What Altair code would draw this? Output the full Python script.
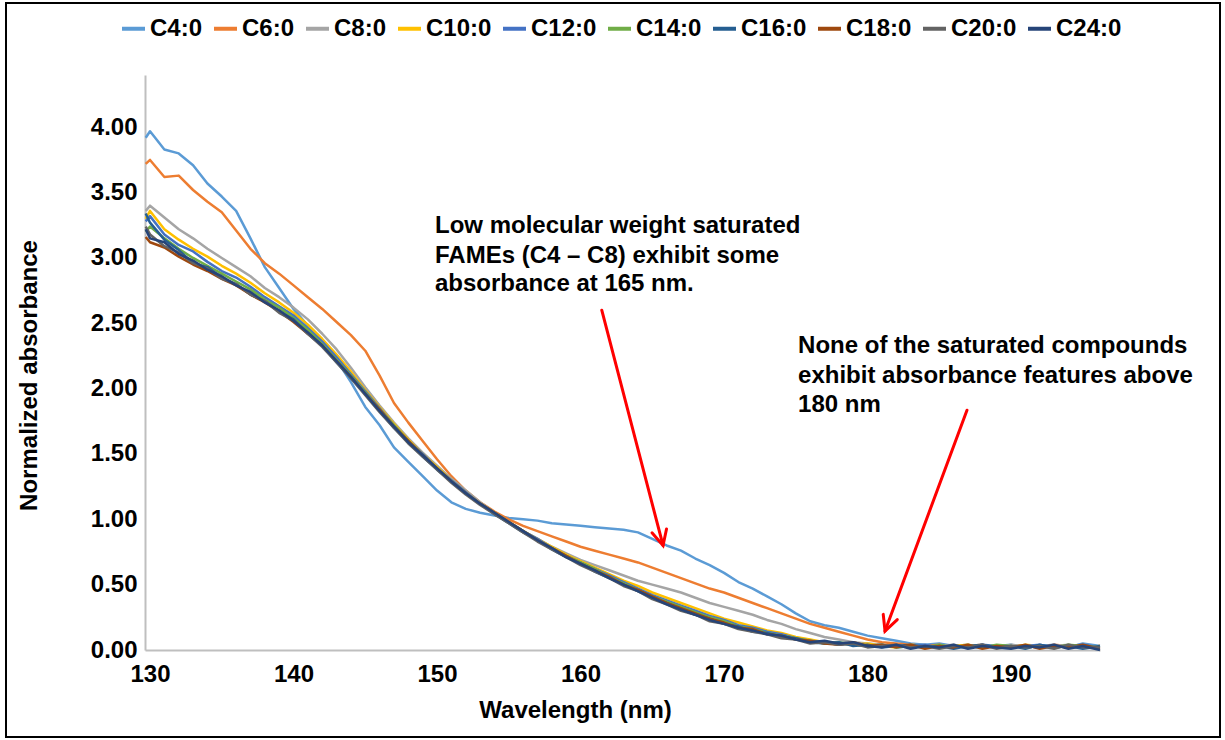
import altair as alt
import pandas as pd

# ---------------- data ----------------
wavelengths = [129.7, 130, 131, 132, 133, 134, 135, 136, 137, 138, 139,
               140, 141, 142, 143, 144, 145, 146, 147, 148, 149,
               150, 151, 152, 153, 154, 155, 156, 157, 158, 159,
               160, 161, 162, 163, 164, 165, 166, 167, 168, 169,
               170, 171, 172, 173, 174, 175, 176, 177, 178, 179,
               180, 181, 182, 183, 184, 185, 186, 187, 188, 189,
               190, 191, 192, 193, 194, 195, 196.2]

series_names = ["C4:0", "C6:0", "C8:0", "C10:0", "C12:0",
                "C14:0", "C16:0", "C18:0", "C20:0", "C24:0"]
series_colors = ["#5B9BD5", "#ED7D31", "#A5A5A5", "#FFC000", "#4472C4",
                 "#70AD47", "#255E91", "#9E480E", "#636363", "#264478"]

c4 = [3.92, 3.97, 3.83, 3.80, 3.71, 3.57, 3.47, 3.36, 3.15, 2.93, 2.77,
      2.61, 2.48, 2.37, 2.22, 2.05, 1.86, 1.72, 1.55, 1.44, 1.33,
      1.22, 1.13, 1.08, 1.05, 1.03, 1.01, 1.00, 0.99, 0.97, 0.96,
      0.95, 0.94, 0.93, 0.92, 0.90, 0.85, 0.80, 0.76, 0.70, 0.65,
      0.59, 0.52, 0.47, 0.41, 0.35, 0.28, 0.22, 0.19, 0.17, 0.14,
      0.11, 0.09, 0.07, 0.05, 0.04, 0.05, 0.03, 0.04, 0.02, 0.03,
      0.04, 0.02, 0.03, 0.04, 0.02, 0.05, 0.03]
c6 = [3.72, 3.75, 3.62, 3.63, 3.52, 3.43, 3.35, 3.21, 3.07, 2.96, 2.88,
      2.79, 2.70, 2.61, 2.51, 2.41, 2.29, 2.10, 1.89, 1.74, 1.60,
      1.46, 1.33, 1.22, 1.13, 1.06, 1.00, 0.95, 0.91, 0.87, 0.83,
      0.79, 0.76, 0.73, 0.70, 0.67, 0.63, 0.59, 0.55, 0.51, 0.47,
      0.44, 0.40, 0.36, 0.32, 0.28, 0.24, 0.20, 0.17, 0.14, 0.11,
      0.08, 0.06, 0.05, 0.04, 0.03, 0.04, 0.02, 0.03, 0.04, 0.02,
      0.03, 0.03, 0.02, 0.04, 0.03, 0.02, 0.03]
c8 = [3.36, 3.40, 3.31, 3.22, 3.15, 3.07, 3.00, 2.93, 2.86, 2.77, 2.70,
      2.62, 2.53, 2.42, 2.30, 2.16, 2.01, 1.87, 1.74, 1.62, 1.51,
      1.41, 1.31, 1.22, 1.13, 1.05, 0.98, 0.91, 0.85, 0.79, 0.74,
      0.69, 0.65, 0.61, 0.57, 0.53, 0.50, 0.47, 0.44, 0.40, 0.36,
      0.33, 0.30, 0.27, 0.23, 0.20, 0.16, 0.13, 0.10, 0.08, 0.06,
      0.05, 0.04, 0.03, 0.04, 0.02, 0.03, 0.04, 0.02, 0.03, 0.02,
      0.04, 0.03, 0.02, 0.03, 0.04, 0.02, 0.03]
c10 = [3.30, 3.36, 3.22, 3.14, 3.07, 3.01, 2.94, 2.88, 2.81, 2.73, 2.66,
       2.58, 2.49, 2.38, 2.26, 2.13, 1.99, 1.86, 1.73, 1.61, 1.50,
       1.40, 1.30, 1.21, 1.12, 1.05, 0.98, 0.91, 0.85, 0.79, 0.73,
       0.68, 0.63, 0.58, 0.53, 0.49, 0.44, 0.40, 0.36, 0.32, 0.28,
       0.24, 0.21, 0.18, 0.15, 0.13, 0.10, 0.08, 0.06, 0.05, 0.04,
       0.05, 0.03, 0.02, 0.04, 0.03, 0.02, 0.03, 0.04, 0.02, 0.03,
       0.02, 0.04, 0.03, 0.02, 0.03, 0.02, 0.03]
c12 = [3.28, 3.32, 3.18, 3.10, 3.05, 2.97, 2.90, 2.85, 2.78, 2.70, 2.63,
       2.56, 2.46, 2.36, 2.24, 2.11, 1.98, 1.85, 1.72, 1.60, 1.50,
       1.39, 1.30, 1.21, 1.12, 1.05, 0.98, 0.91, 0.85, 0.78, 0.72,
       0.67, 0.62, 0.57, 0.52, 0.47, 0.42, 0.38, 0.34, 0.30, 0.26,
       0.23, 0.19, 0.17, 0.14, 0.12, 0.09, 0.07, 0.06, 0.04, 0.05,
       0.03, 0.04, 0.02, 0.03, 0.04, 0.02, 0.03, 0.02, 0.04, 0.03,
       0.02, 0.03, 0.04, 0.02, 0.03, 0.04, 0.02]
c14 = [3.20, 3.24, 3.15, 3.07, 3.00, 2.94, 2.88, 2.82, 2.76, 2.68, 2.62,
       2.54, 2.45, 2.34, 2.22, 2.10, 1.97, 1.84, 1.72, 1.60, 1.49,
       1.39, 1.29, 1.20, 1.12, 1.05, 0.98, 0.91, 0.84, 0.78, 0.72,
       0.67, 0.62, 0.56, 0.51, 0.46, 0.41, 0.37, 0.33, 0.29, 0.25,
       0.22, 0.18, 0.16, 0.13, 0.11, 0.09, 0.07, 0.05, 0.06, 0.04,
       0.03, 0.04, 0.02, 0.03, 0.02, 0.04, 0.02, 0.03, 0.02, 0.04,
       0.03, 0.02, 0.03, 0.02, 0.04, 0.03, 0.02]
c16 = [3.34, 3.27, 3.14, 3.06, 2.96, 2.93, 2.85, 2.80, 2.72, 2.67, 2.59,
       2.53, 2.42, 2.33, 2.20, 2.08, 1.96, 1.83, 1.70, 1.59, 1.48,
       1.38, 1.29, 1.20, 1.12, 1.04, 0.97, 0.90, 0.84, 0.77, 0.71,
       0.66, 0.60, 0.55, 0.50, 0.45, 0.40, 0.36, 0.31, 0.27, 0.24,
       0.20, 0.18, 0.14, 0.13, 0.10, 0.09, 0.06, 0.05, 0.06, 0.03,
       0.04, 0.02, 0.03, 0.04, 0.02, 0.03, 0.01, 0.03, 0.04, 0.02,
       0.03, 0.01, 0.04, 0.02, 0.03, 0.01, 0.03]
c18 = [3.16, 3.12, 3.08, 3.01, 2.95, 2.90, 2.84, 2.79, 2.72, 2.66, 2.59,
       2.51, 2.42, 2.33, 2.21, 2.09, 1.96, 1.84, 1.71, 1.60, 1.49,
       1.39, 1.29, 1.20, 1.12, 1.05, 0.98, 0.91, 0.84, 0.78, 0.72,
       0.66, 0.61, 0.56, 0.50, 0.46, 0.41, 0.36, 0.32, 0.28, 0.24,
       0.21, 0.17, 0.16, 0.12, 0.11, 0.08, 0.07, 0.05, 0.04, 0.06,
       0.03, 0.04, 0.02, 0.04, 0.01, 0.03, 0.02, 0.04, 0.01, 0.03,
       0.02, 0.04, 0.01, 0.03, 0.02, 0.04, 0.01]
c20 = [3.24, 3.18, 3.09, 3.04, 2.96, 2.92, 2.84, 2.80, 2.72, 2.67, 2.58,
       2.52, 2.42, 2.32, 2.20, 2.08, 1.95, 1.82, 1.70, 1.58, 1.48,
       1.38, 1.28, 1.19, 1.11, 1.04, 0.97, 0.90, 0.83, 0.77, 0.71,
       0.65, 0.60, 0.55, 0.49, 0.45, 0.39, 0.35, 0.30, 0.27, 0.22,
       0.20, 0.16, 0.14, 0.12, 0.09, 0.08, 0.05, 0.06, 0.04, 0.05,
       0.02, 0.03, 0.04, 0.02, 0.03, 0.01, 0.03, 0.02, 0.04, 0.01,
       0.03, 0.02, 0.03, 0.01, 0.04, 0.02, 0.02]
c24 = [3.22, 3.15, 3.12, 3.03, 2.98, 2.91, 2.86, 2.79, 2.74, 2.66, 2.60,
       2.52, 2.43, 2.33, 2.21, 2.09, 1.96, 1.83, 1.71, 1.59, 1.49,
       1.39, 1.29, 1.20, 1.12, 1.05, 0.98, 0.91, 0.84, 0.78, 0.71,
       0.66, 0.61, 0.55, 0.50, 0.45, 0.40, 0.35, 0.31, 0.27, 0.23,
       0.20, 0.17, 0.15, 0.12, 0.11, 0.08, 0.06, 0.07, 0.05, 0.06,
       0.03, 0.02, 0.04, 0.01, 0.03, 0.02, 0.04, 0.01, 0.03, 0.02,
       0.01, 0.03, 0.02, 0.04, 0.01, 0.03, 0.00]

series_values = [c4, c6, c8, c10, c12, c14, c16, c18, c20, c24]

x_ticks = [130, 140, 150, 160, 170, 180, 190]
y_ticks = [0, 0.5, 1.0, 1.5, 2.0, 2.5, 3.0, 3.5, 4.0]

# annotations (data coordinates)
ann_text = ["Low molecular weight saturated",
            "FAMEs (C4 \u2013 C8) exhibit some",
            "absorbance at 165 nm.",
            "None of the saturated compounds",
            "exhibit absorbance features above",
            "180 nm"]
ann_x = [149.86, 149.86, 149.86, 175.16, 175.16, 175.16]
ann_y = [3.19, 2.96, 2.75, 2.27, 2.04, 1.82]

arrow_x0 = [161.48, 186.93]
arrow_y0 = [2.60, 1.835]
arrow_x1 = [165.75, 181.22]
arrow_y1 = [0.80, 0.145]
arrow_angle = [345.4, 20.4]

# ---------------- build tables ----------------
rows = []
for name, vals in zip(series_names, series_values):
    assert len(vals) == len(wavelengths), name
    for w, v in zip(wavelengths, vals):
        rows.append({"wl": w, "val": v, "series": name})
df = pd.DataFrame(rows)

ann_df = pd.DataFrame({"x": ann_x, "y": ann_y, "t": ann_text})
arr_df = pd.DataFrame({"x0": arrow_x0, "y0": arrow_y0, "x1": arrow_x1,
                       "y1": arrow_y1, "ang": arrow_angle})

FONT = "Liberation Sans"

xscale = alt.Scale(domain=[129.65, 196.2], nice=False, zero=False)
yscale = alt.Scale(domain=[0, 4.4], nice=False, zero=True)

lines = alt.Chart(df).mark_line(strokeWidth=2.5, strokeJoin="round").encode(
    x=alt.X("wl:Q", scale=xscale,
            axis=alt.Axis(values=x_ticks, format="d", title="Wavelength (nm)",
                          grid=False, ticks=False, domainColor="#BFBFBF",
                          domainWidth=2, labelFont=FONT, labelFontSize=24,
                          labelFontWeight="bold", labelColor="black",
                          labelPadding=12, labelFlush=False,
                          titleFont=FONT, titleFontSize=24,
                          titleFontWeight="bold", titleColor="black",
                          titleX=430, titleY=67, titleAlign="center",
                          titleBaseline="alphabetic")),
    y=alt.Y("val:Q", scale=yscale,
            axis=alt.Axis(values=y_ticks, format=".2f",
                          title="Normalized absorbance",
                          grid=False, ticks=False, domainColor="#BFBFBF",
                          domainWidth=2, labelFont=FONT, labelFontSize=24,
                          labelFontWeight="bold", labelColor="black",
                          labelPadding=8, labelFlush=False,
                          titleFont=FONT, titleFontSize=24,
                          titleFontWeight="bold", titleColor="black",
                          titleX=-116, titleY=300, titleAngle=270,
                          titleAlign="center", titleBaseline="middle")),
    color=alt.Color("series:N",
                    scale=alt.Scale(domain=series_names, range=series_colors),
                    legend=alt.Legend(orient="none", legendX=-25, legendY=-60,
                                      direction="horizontal", columns=10,
                                      title=None, symbolType="stroke",
                                      symbolSize=529, symbolStrokeWidth=4,
                                      labelFont=FONT, labelFontSize=24,
                                      labelFontWeight="bold",
                                      labelColor="black", labelOffset=3,
                                      columnPadding=3)),
)

texts = alt.Chart(ann_df).mark_text(align="left", baseline="alphabetic",
                                    font=FONT, fontSize=24, fontWeight="bold",
                                    color="black").encode(
    x=alt.X("x:Q", scale=xscale), y=alt.Y("y:Q", scale=yscale), text="t:N")

shafts = alt.Chart(arr_df).mark_rule(color="#FF0000", strokeWidth=3,
                                     strokeCap="round").encode(
    x=alt.X("x0:Q", scale=xscale), y=alt.Y("y0:Q", scale=yscale),
    x2="x1:Q", y2="y1:Q")

heads = alt.Chart(arr_df).mark_point(shape="M -0.5 -1 L 0 0 L 0.5 -1",
                                     filled=False, size=900, strokeWidth=3,
                                     color="#FF0000", opacity=1,
                                     strokeCap="round", strokeJoin="miter").encode(
    x=alt.X("x1:Q", scale=xscale), y=alt.Y("y1:Q", scale=yscale),
    angle=alt.Angle("ang:Q", scale=None))

border = alt.Chart(pd.DataFrame({"a": [0]})).mark_rect(
    fillOpacity=0, stroke="black", strokeWidth=2).encode(
    x=alt.value(-139), x2=alt.value(1075), y=alt.value(-72), y2=alt.value(662))

chart = alt.layer(lines, texts, shafts, heads, border).properties(
    width=955, height=575,
    autosize=alt.AutoSizeParams(type="none"),
    padding={"left": 145, "top": 75, "right": 125, "bottom": 90},
    background="white",
).configure_view(stroke=None)

chart.save("out.html", embed_options={"renderer": "svg", "actions": False})
